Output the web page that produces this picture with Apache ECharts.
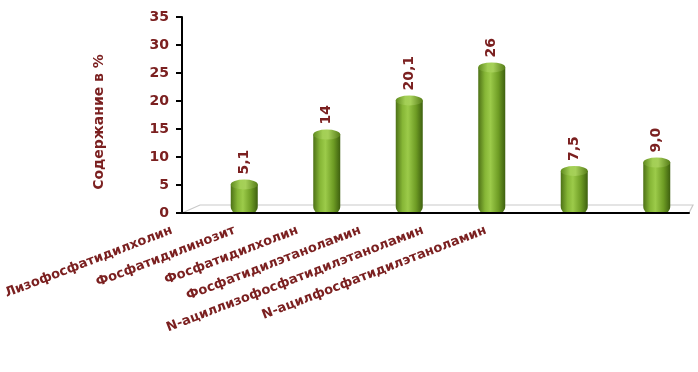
<!DOCTYPE html>
<html>
<head>
<meta charset="utf-8">
<script src="https://cdn.jsdelivr.net/npm/echarts@6/dist/echarts.min.js"></script>
<style>
html,body{margin:0;padding:0;background:#fff;}
#c{width:698px;height:372px;}
</style>
</head>
<body>
<div id="c"></div>
<script>
const categories = ['Лизофосфатидилхолин','Фосфатидилинозит','Фосфатидилхолин','Фосфатидилэтаноламин','N-ациллизофосфатидилэтаноламин','N-ацилфосфатидилэтаноламин'];
const values = [5.1, 14, 20.1, 26, 7.5, 9.0];
const valueLabels = ['5,1','14','20,1','26','7,5','9,0'];
const yTicks = [0,5,10,15,20,25,30,35];
const yTitle = 'Содержание в %';

const RED = '#7b2020';
const FONT = 'DejaVu Sans';
const chart = echarts.init(document.getElementById('c'));
const gTop = 17, gH = 196;
const bodyGrad = new echarts.graphic.LinearGradient(0, 0, 1, 0, [
  { offset: 0, color: '#4d7116' },
  { offset: 0.25, color: '#86b636' },
  { offset: 0.45, color: '#9ccb4a' },
  { offset: 0.75, color: '#6e9c24' },
  { offset: 1, color: '#3e600f' }
]);
const capGrad = new echarts.graphic.LinearGradient(0, 0, 1, 0, [
  { offset: 0, color: '#5f8a1e' },
  { offset: 0.35, color: '#a3cf55' },
  { offset: 0.55, color: '#a6d059' },
  { offset: 1, color: '#567d18' }
]);
chart.setOption({
  backgroundColor: '#ffffff',
  animation: false,
  graphic: [{
    type: 'polyline', z: 0,
    shape: { points: [[182,213],[200,205],[693,205],[689,213]] },
    style: { stroke: '#c9c9c9', lineWidth: 1.2, fill: null }
  }],
  grid: [
    { left: 182, top: gTop, width: 507, height: gH },
    { left: 203, top: gTop, width: 507, height: gH },
    { left: 140.6, top: gTop, width: 376.8, height: gH }
  ],
  xAxis: [
    { type: 'category', gridIndex: 0, data: categories, boundaryGap: true,
      axisLine: { lineStyle: { color: '#000', width: 2 } },
      axisTick: { length: 5, lineStyle: { color: '#000', width: 2 } },
      axisLabel: { show: false }, z: 5 },
    { type: 'category', gridIndex: 1, data: categories, show: false },
    { type: 'category', gridIndex: 2, data: categories,
      axisLine: { show: false }, axisTick: { show: false },
      axisLabel: { rotate: 21, margin: 17, color: RED, fontWeight: 'bold', fontSize: 13, fontFamily: FONT, interval: 0 } }
  ],
  yAxis: [
    { type: 'value', gridIndex: 0, min: yTicks[0], max: yTicks[yTicks.length-1], interval: 5,
      axisLine: { show: true, lineStyle: { color: '#000', width: 2 } },
      axisTick: { show: true, length: 6, lineStyle: { color: '#000', width: 2 } },
      splitLine: { show: false },
      axisLabel: { color: RED, fontWeight: 'bold', fontSize: 14, fontFamily: FONT, margin: 13 },
      name: yTitle, nameLocation: 'middle', nameRotate: 90, nameGap: 76,
      nameTextStyle: { color: RED, fontWeight: 'bold', fontSize: 14, fontFamily: FONT, padding: [0, 14, 0, 0] } },
    { type: 'value', gridIndex: 1, min: 0, max: 35, show: false },
    { type: 'value', gridIndex: 2, min: 0, max: 35, show: false }
  ],
  series: [{
    type: 'bar', xAxisIndex: 1, yAxisIndex: 1, data: values, barWidth: 27, z: 3,
    itemStyle: { borderRadius: [0, 0, 6, 6], color: bodyGrad },
    label: {
      show: true, position: 'top', rotate: 90, distance: 10,
      align: 'left', verticalAlign: 'middle',
      formatter: p => valueLabels[p.dataIndex],
      color: RED, fontWeight: 'bold', fontSize: 14, fontFamily: FONT
    }
  }, {
    type: 'pictorialBar', xAxisIndex: 1, yAxisIndex: 1, data: values, z: 4,
    symbol: 'circle', symbolSize: [27, 10], symbolPosition: 'end', symbolOffset: [0, '-50%'],
    itemStyle: { color: capGrad }
  }]
});
</script>
</body>
</html>
